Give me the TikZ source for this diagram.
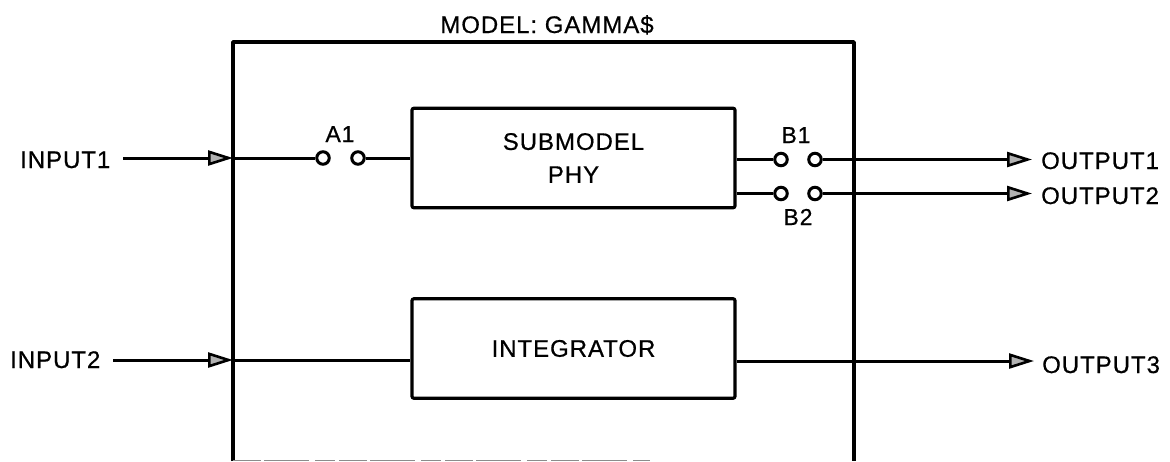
\documentclass[tikz,border=0pt]{standalone}
\usepackage{fontspec}
\setmainfont{Liberation Sans}[LetterSpace=4,FakeBold=0.6]
\usetikzlibrary{arrows.meta}
\tikzset{
  x=1pt,y=-1pt,
  frame/.style={draw=black,line width=3.8pt,line join=round},
  blockbox/.style={draw=black,line width=3.2pt,rounded corners=2pt,minimum width=323pt,minimum height=99.5pt,align=center,inner sep=0pt,font=\fontsize{24}{33}\selectfont},
  term/.style={circle,draw=black,line width=3pt,fill=white,minimum size=12.5pt,inner sep=0pt},
  lab/.style={font=\fontsize{24}{28}\selectfont,inner sep=0pt,text=black},
  small/.style={font=\fontsize{23}{28}\selectfont,inner sep=0pt,text=black},
  wire/.style={draw=black,line width=3pt},
  sig/.style={draw=black,line width=3pt,-{Triangle[length=25pt,width=15pt,line width=2.6pt,fill=black!30]}}
}
\begin{document}
\begin{tikzpicture}
\useasboundingbox (0,0) rectangle (1170,461);
\node[lab,anchor=base] (title) at (547,33) {MODEL: GAMMA\$};
\draw[frame] (233,461) -- (233,42) -- (854,42) -- (854,461);
\draw[draw=black!45,line width=1.2pt,dash pattern=on 28pt off 3pt on 45pt off 6pt on 20pt off 4pt] (233,460.6) -- (650,460.6);
\coordinate (inL) at (233,158);
\coordinate (in2L) at (233,360);
\node[blockbox] (phy) at (573.5,158) {SUBMODEL\\PHY};
\node[blockbox] (integ) at (573.5,348.5) {\raisebox{-1pt}{INTEGRATOR}};
\node[term] (a1l) at (323,158) {};
\node[term] (a1r) at (358,158) {};
\node[term] (b1l) at (781,159.5) {};
\node[term] (b1r) at (815,159.5) {};
\node[term] (b2l) at (781,193.5) {};
\node[term] (b2r) at (815,193.5) {};
\node[small,anchor=base] (A1) at (340,142) {A1};
\node[small,anchor=base] (B1) at (796,143) {B1};
\node[small,anchor=base] (B2) at (798,225) {B2};
\node[lab,anchor=base west] (i1) at (20,168) {INPUT1};
\node[lab,anchor=base west] (i2) at (10,368) {INPUT2};
\node[lab,anchor=base west] (o1) at (1041,169) {OUTPUT1};
\node[lab,anchor=base west] (o2) at (1041,204) {OUTPUT2};
\node[lab,anchor=base west] (o3) at (1042,373) {OUTPUT3};
\coordinate (s1) at (123,158);
\coordinate (s2) at (113,360);
\draw[sig] (s1) -- (inL);
\draw[sig] (s2) -- (in2L);
\draw[wire] (inL) -- (a1l);
\draw[wire] (a1r) -- (a1r -| phy.west);
\draw[wire] (in2L) -- (in2L -| integ.west);
\draw[wire] (phy.east |- b1l) -- (b1l);
\draw[wire] (phy.east |- b2l) -- (b2l);
\coordinate (e1) at (1032,159.5);
\coordinate (e2) at (1032,193.5);
\coordinate (e3) at (1034,361);
\draw[sig] (b1r) -- (e1);
\draw[sig] (b2r) -- (e2);
\draw[sig] (integ.east |- e3) -- (e3);
\end{tikzpicture}
\end{document}
